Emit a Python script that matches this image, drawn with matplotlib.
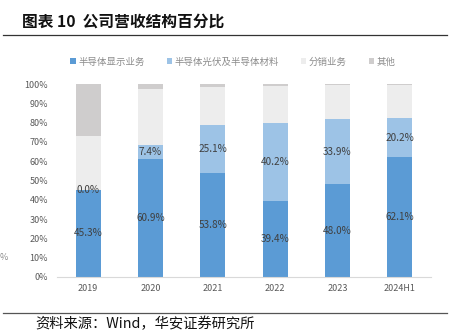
import matplotlib
matplotlib.use("Agg")
import matplotlib.pyplot as plt
from matplotlib.patches import Patch
from matplotlib.lines import Line2D

plt.rcParams['font.family'] = ['Noto Sans CJK SC', 'DejaVu Sans']

categories = ["2019", "2020", "2021", "2022", "2023", "2024H1"]
display = [45.3, 60.9, 53.8, 39.4, 48.0, 62.1]
pv_material = [0.0, 7.4, 25.1, 40.2, 33.9, 20.2]
distribution = [27.6, 29.2, 19.6, 19.3, 17.5, 17.1]
others = [27.1, 2.5, 1.5, 1.1, 0.6, 0.6]
series_names = ["半导体显示业务", "半导体光伏及半导体材料", "分销业务", "其他"]
colors = ["#5B9BD5", "#9DC3E6", "#EDEDED", "#CFCDCD"]
yticks = [0, 10, 20, 30, 40, 50, 60, 70, 80, 90, 100]

W, H = 451, 334
fig = plt.figure(figsize=(W / 100, H / 100), dpi=100)
ax = fig.add_axes([57 / W, 1 - 277 / H, (431 - 57) / W, (277 - 84) / H])

x = list(range(len(categories)))
bottom = [0.0] * len(categories)
series = [display, pv_material, distribution, others]
for vals, col in zip(series, colors):
    ax.bar(x, vals, 0.4, bottom=bottom, color=col, edgecolor='none', zorder=2)
    bottom = [b + v for b, v in zip(bottom, vals)]

# labels for first two series
for i in x:
    ax.text(i, display[i] / 2, f"{display[i]:.1f}%", ha='center', va='center',
            fontsize=7.2, color='#404040', zorder=3)
    ax.text(i, display[i] + pv_material[i] / 2, f"{pv_material[i]:.1f}%",
            ha='center', va='center', fontsize=7.2, color='#404040', zorder=3)

ax.set_ylim(0, 100)
ax.set_xlim(-0.5, len(categories) - 0.5)
ax.set_yticks(yticks)
ax.set_yticklabels([f"{t}%" for t in yticks])
ax.set_xticks(x)
ax.set_xticklabels(categories)
ax.tick_params(axis='both', length=0, labelsize=6.5, colors='#595959', pad=5)
ax.tick_params(axis='y', pad=6.5)
for s in ['top', 'right', 'left']:
    ax.spines[s].set_visible(False)
ax.spines['bottom'].set_color('#D9D9D9')
ax.spines['bottom'].set_linewidth(0.8)

handles = [Patch(facecolor=c, edgecolor='none') for c in colors]
fig.legend(handles, series_names, loc='center', bbox_to_anchor=(233 / W, 1 - 62 / H),
           ncol=4, frameon=False, fontsize=6.8, labelcolor='#8C8C8C',
           handlelength=0.55, handleheight=0.55, handletextpad=0.3, columnspacing=2.3)

# title and rules
fig.text(22 / W, 1 - 22 / H, "图表 10  公司营收结构百分比", fontsize=11.3, fontweight='bold',
         ha='left', va='center', color='#111111')
fig.add_artist(Line2D([3 / W, 447 / W], [1 - 34.5 / H, 1 - 34.5 / H], color='#333333', lw=0.9))
fig.add_artist(Line2D([3 / W, 447 / W], [1 - 312.5 / H, 1 - 312.5 / H], color='#555555', lw=0.9))
fig.text(35 / W, 1 - 324 / H, "资料来源：Wind，华安证券研究所", fontsize=10.3,
         ha='left', va='center', color='#111111')
fig.text(0 / W, 1 - 258 / H, "%", fontsize=6.5, ha='left', va='center', color='#8C8C8C')

fig.savefig("out.png", dpi=100)
